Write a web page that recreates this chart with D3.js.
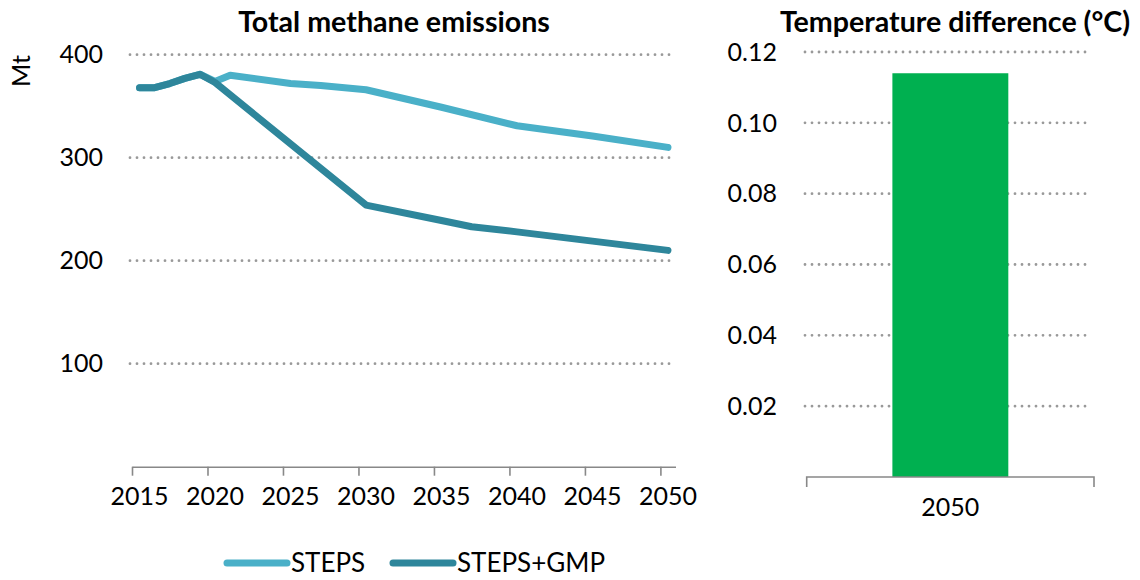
<!DOCTYPE html>
<html>
<head>
<meta charset="utf-8">
<script src="https://cdn.jsdelivr.net/npm/d3@7"></script>
<style>
  html, body { margin: 0; padding: 0; background: #fff; }
  svg { display: block; font-family: Lato, "Open Sans", sans-serif; }
</style>
</head>
<body>
<svg id="chart" width="1140" height="580"></svg>
<script>
// ---------- data ----------
const stepsYears  = [2015, 2016, 2017, 2018, 2019, 2020, 2021, 2025, 2027, 2030, 2035, 2040, 2045, 2050];
const stepsValues = [368, 368, 372, 377, 381, 374, 380, 372, 370, 366, 349, 331, 321, 310];
const gmpYears    = [2015, 2016, 2017, 2018, 2019, 2020, 2030, 2035, 2037, 2040, 2045, 2050];
const gmpValues   = [368, 368, 372, 377, 381, 373, 254, 239, 233, 228, 219, 210];
const xTickYears  = [2015, 2020, 2025, 2030, 2035, 2040, 2045, 2050];
const yTicksLeft  = [100, 200, 300, 400];
const barCategories = ["2050"];
const barValues     = [0.114];
const yTicksRight   = [0.02, 0.04, 0.06, 0.08, 0.10, 0.12];
const seriesNames   = ["STEPS", "STEPS+GMP"];
const seriesColors  = ["#4AB0C8", "#2E869B"];

const svg = d3.select("#chart");
const FONT = 25;
const TITLE_FONT = 28.6;

// ---------- left chart ----------
const L = { x0: 132, x1: 675.5, yTop: 54.7, yBot: 466.7 };
const x = d3.scaleLinear().domain([2014.5, 2050.5]).range([L.x0, L.x1]);
const y = d3.scaleLinear().domain([0, 400]).range([L.yBot, L.yTop]);

const gridL = svg.append("g");
gridL.selectAll("line").data(yTicksLeft).join("line")
  .attr("x1", 130).attr("x2", 675)
  .attr("y1", d => y(d)).attr("y2", d => y(d))
  .attr("stroke", "#999").attr("stroke-width", 2.8)
  .attr("stroke-linecap", "round").attr("stroke-dasharray", "0 7");

svg.append("g").selectAll("text").data(yTicksLeft).join("text")
  .attr("x", 103).attr("y", d => y(d)).attr("dy", "0.35em")
  .attr("text-anchor", "end").attr("font-size", FONT).attr("fill", "#000")
  .text(d => d);

// x axis line + tick marks (at category boundaries)
const axL = svg.append("g").attr("transform", `translate(0,${L.yBot})`);
axL.call(d3.axisBottom(x).tickValues(xTickYears.map(v => v - 0.5)).tickSize(9).tickSizeOuter(0).tickFormat(""));
axL.select(".domain").attr("stroke", "#888").attr("stroke-width", 1.6);
axL.selectAll(".tick line").attr("stroke", "#888").attr("stroke-width", 1.6);
// labels at category centres
svg.append("g").selectAll("text").data(xTickYears).join("text")
  .attr("x", d => x(d)).attr("y", 505)
  .attr("text-anchor", "middle").attr("font-size", FONT).attr("fill", "#000")
  .text(d => d);

const line = d3.line().x(d => x(d[0])).y(d => y(d[1]));
const stepsData = stepsYears.map((yr, i) => [yr, stepsValues[i]]);
const gmpData = gmpYears.map((yr, i) => [yr, gmpValues[i]]);
[stepsData, gmpData].forEach((data, i) => {
  svg.append("path").datum(data).attr("d", line)
    .attr("fill", "none").attr("stroke", seriesColors[i]).attr("stroke-width", 7)
    .attr("stroke-linejoin", "round").attr("stroke-linecap", "round");
});

svg.append("text").attr("x", 394).attr("y", 31.5).attr("text-anchor", "middle")
  .attr("font-size", TITLE_FONT).attr("font-weight", "bold").text("Total methane emissions");

svg.append("text").attr("transform", "translate(30,71) rotate(-90)")
  .attr("text-anchor", "middle").attr("font-size", FONT).text("Mt");

// ---------- right chart ----------
const R = { x0: 806.7, x1: 1094, yTop: 52, yBot: 477 };
const xb = d3.scaleBand().domain(barCategories).range([R.x0, R.x1]).padding(0.425);
const yr = d3.scaleLinear().domain([0, 0.12]).range([R.yBot, R.yTop]);

svg.append("g").selectAll("line").data(yTicksRight).join("line")
  .attr("x1", 805).attr("x2", 1092)
  .attr("y1", d => yr(d)).attr("y2", d => yr(d))
  .attr("stroke", "#999").attr("stroke-width", 2.8)
  .attr("stroke-linecap", "round").attr("stroke-dasharray", "0 7");

svg.append("g").selectAll("text").data(yTicksRight).join("text")
  .attr("x", 777).attr("y", d => yr(d)).attr("dy", "0.35em")
  .attr("text-anchor", "end").attr("font-size", FONT).attr("fill", "#000")
  .text(d => d3.format(".2f")(d));

svg.append("g").selectAll("rect").data(barCategories).join("rect")
  .attr("x", d => xb(d)).attr("width", xb.bandwidth())
  .attr("y", (d, i) => yr(barValues[i])).attr("height", (d, i) => R.yBot - yr(barValues[i]))
  .attr("fill", "#00B050");

const axR = svg.append("g").attr("transform", `translate(0,${R.yBot})`);
axR.append("path").attr("d", `M${R.x0},10V0H${R.x1}V10`)
  .attr("fill", "none").attr("stroke", "#888").attr("stroke-width", 1.6);
svg.append("g").selectAll("text").data(barCategories).join("text")
  .attr("x", d => xb(d) + xb.bandwidth() / 2).attr("y", 516)
  .attr("text-anchor", "middle").attr("font-size", FONT).text(d => d);

svg.append("text").attr("x", 955).attr("y", 31.5).attr("text-anchor", "middle")
  .attr("font-size", TITLE_FONT).attr("font-weight", "bold").text("Temperature difference (°C)");

// ---------- legend ----------
const legendX = [227, 393];
const lg = svg.append("g");
seriesNames.forEach((name, i) => {
  lg.append("line").attr("x1", legendX[i]).attr("x2", legendX[i] + 60)
    .attr("y1", 563).attr("y2", 563)
    .attr("stroke", seriesColors[i]).attr("stroke-width", 7).attr("stroke-linecap", "round");
  lg.append("text").attr("x", legendX[i] + 64).attr("y", 572)
    .attr("font-size", 26).text(name);
});
</script>
</body>
</html>
